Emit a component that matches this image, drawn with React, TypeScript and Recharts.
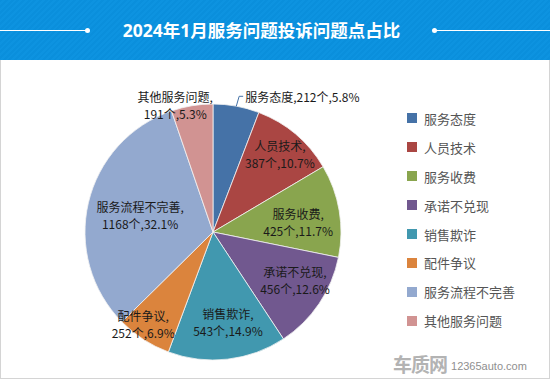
import React from "react";
import { PieChart, Pie, Cell } from "recharts";

const CATEGORIES = ["服务态度", "人员技术", "服务收费", "承诺不兑现", "销售欺诈", "配件争议", "服务流程不完善", "其他服务问题"];
const COUNTS = [212, 387, 425, 456, 543, 252, 1168, 191];
const PERCENTS = ["5.8", "10.7", "11.7", "12.6", "14.9", "6.9", "32.1", "5.3"];

const COLORS = ["#4572A7", "#AA4643", "#89A54E", "#71588F", "#4198AF", "#DB843D", "#93A9CF", "#D19392"];

// label placement (radius as share of outer radius, clockwise angle shift in degrees)
const LABEL_LAYOUT = [
  { r: 1, da: 0 },
  { r: 0.805, da: 0.3 },
  { r: 0.67, da: 2.5 },
  { r: 0.74, da: -4 },
  { r: 0.71, da: -3 },
  { r: 0.9, da: 4.4 },
  { r: 0.585, da: 0 },
  { r: 1.04, da: -7 },
];

const FONT = '"Noto Sans CJK SC", "Noto Sans", sans-serif';
const RAD = Math.PI / 180;

const data = CATEGORIES.map((name, i) => ({ name, value: COUNTS[i], pct: PERCENTS[i] }));

function renderLabel(props: any) {
  const { cx, cy, midAngle, outerRadius, index } = props;
  const d = data[index];
  if (index === 0) {
    const a = -midAngle * RAD;
    const sx = cx + outerRadius * Math.cos(a);
    const sy = cy + outerRadius * Math.sin(a);
    const ex = cx + (outerRadius + 10) * Math.cos(a);
    const ey = cy + (outerRadius + 10) * Math.sin(a);
    return (
      <g>
        <path d={`M${sx},${sy}L${ex + 1},${ey}L${ex + 5},${ey}`} stroke={COLORS[0]} fill="none" strokeWidth={1} />
        <text x={ex + 7} y={ey} fill="#1a1a1a" fontSize={12} fontFamily={FONT} textAnchor="start" dominantBaseline="central">
          {`${d.name},${d.value}个,${d.pct}%`}
        </text>
      </g>
    );
  }
  const { r, da } = LABEL_LAYOUT[index];
  const a = -(midAngle - da) * RAD;
  const x = cx + outerRadius * r * Math.cos(a);
  const y = cy + outerRadius * r * Math.sin(a);
  return (
    <text x={x} y={y} fill="#1a1a1a" fontSize={12} fontFamily={FONT} textAnchor="middle" dominantBaseline="central">
      <tspan x={x} y={y - 8.5}>{`${d.name},`}</tspan>
      <tspan x={x} y={y + 8.5}>{`${d.value}个,${d.pct}%`}</tspan>
    </text>
  );
}

function LegendList() {
  return (
    <div style={{ position: "absolute", left: 407, top: 104, width: 140, fontFamily: FONT }}>
      {CATEGORIES.map((c, i) => (
        <div key={c} style={{ display: "flex", alignItems: "center", height: 28.9 }}>
          <div style={{ width: 10, height: 10, background: COLORS[i], marginRight: 7 }} />
          <span style={{ fontSize: 13, color: "#555" }}>{c}</span>
        </div>
      ))}
    </div>
  );
}

export default function App() {
  return (
    <div style={{ position: "absolute", left: 0, top: 0, width: 550, height: 380, background: "#fff", fontFamily: FONT, overflow: "hidden" }}>
      <div
        style={{
          position: "absolute", left: 0, top: 0, width: 550, height: 60,
          background: "repeating-linear-gradient(135deg, #0a8fdc 0px, #0a8fdc 2px, #0d93e0 2px, #0d93e0 4px)",
        }}
      >
        <div style={{ position: "absolute", left: 0, top: 30, width: 88, height: 1, background: "#fff" }} />
        <div style={{ position: "absolute", left: 85, top: 28, width: 5, height: 5, borderRadius: 3, background: "#fff" }} />
        <div style={{ position: "absolute", left: 434, top: 30, width: 116, height: 1, background: "#fff" }} />
        <div style={{ position: "absolute", left: 432, top: 28, width: 5, height: 5, borderRadius: 3, background: "#fff" }} />
        <div
          style={{
            position: "absolute", left: 0, top: 0, width: 550, height: 60, lineHeight: "60px", textAlign: "center",
            color: "#fff", fontSize: 17.5, fontWeight: 700, paddingRight: 27, boxSizing: "border-box",
            fontFamily: '"Noto Sans", "Noto Sans CJK SC", sans-serif',
          }}
        >
          2024年1月服务问题投诉问题点占比
        </div>
      </div>
      <div
        style={{
          position: "absolute", left: 0, top: 60, width: 550, height: 319, boxSizing: "border-box",
          borderLeft: "1px solid #d4d4d4", borderRight: "1px solid #d4d4d4", borderBottom: "1px solid #d4d4d4",
        }}
      />
      <PieChart width={550} height={380} style={{ position: "absolute", left: 0, top: 0 }} margin={{ top: 0, right: 0, bottom: 0, left: 0 }}>
        <Pie
          data={data}
          dataKey="value"
          nameKey="name"
          cx={213}
          cy={232}
          outerRadius={128}
          startAngle={90}
          endAngle={-270}
          stroke="#f2f2f2"
          strokeWidth={0.8}
          label={renderLabel}
          labelLine={false}
          isAnimationActive={false}
        >
          {data.map((d, i) => (
            <Cell key={d.name} fill={COLORS[i]} />
          ))}
        </Pie>
      </PieChart>
      <LegendList />
      <div style={{ position: "absolute", left: 393, top: 354, display: "flex", alignItems: "flex-end" }}>
        <span style={{ fontSize: 19, fontWeight: 700, letterSpacing: -1, lineHeight: "20px", color: "#b3b3b3" }}>车质网</span>
        <span style={{ fontSize: 11, marginLeft: 4, lineHeight: "16px", fontFamily: '"Liberation Sans", Arial, sans-serif', color: "#8f8f8f" }}>12365auto.com</span>
      </div>
    </div>
  );
}
